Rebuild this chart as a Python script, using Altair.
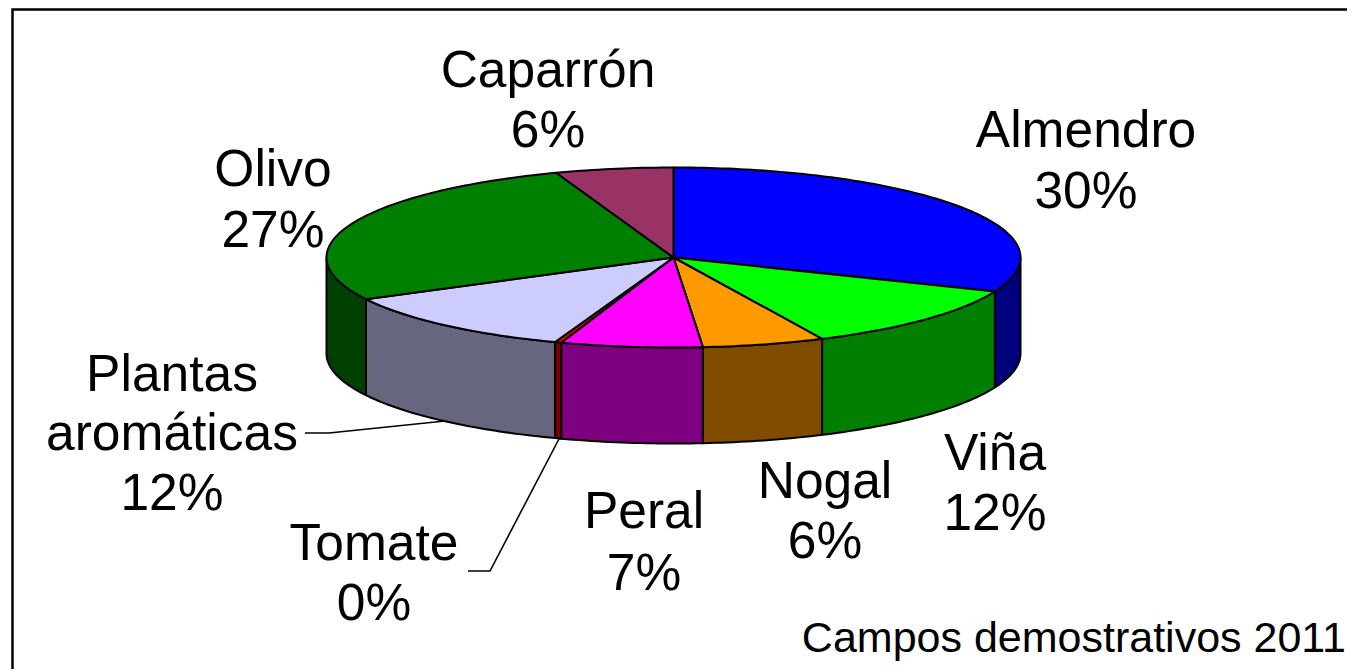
import math
import altair as alt

# Slice data (share of the pie) ------------------------------------------
names = ["Almendro", "Viña", "Nogal", "Peral", "Tomate", "Plantas aromáticas", "Olivo", "Caparrón"]
shares = [31.2, 11.8, 5.7, 6.6, 0.3, 11.8, 27.2, 5.5]
top_colors = ["#0000FF", "#00FF00", "#FF9900", "#FF00FF", "#FF0000", "#CCCCFF", "#008000", "#993366"]
side_colors = ["#00007F", "#007F00", "#7F4C00", "#7F007F", "#7F0000", "#66667F", "#004000", "#4C1933"]

# Label lines
label_lines = ["Caparrón", "6%", "Almendro", "30%", "Olivo", "27%", "Plantas", "aromáticas", "12%",
               "Tomate", "0%", "Peral", "7%", "Nogal", "6%", "Viña", "12%"]
label_x = [548, 548, 1086, 1086, 273, 273, 172, 172, 172, 374, 374, 644, 644, 825, 825, 995, 995]
label_y = [87, 147, 147, 208, 186, 247, 391, 450, 510, 560, 620, 528, 590, 498, 558, 470, 530]
caption = "Campos demostrativos 2011"

# Pie geometry
CX, CY, RX, RY, DEPTH = 673.5, 257.5, 347.0, 90.0, 96.0


def rim(t, dy=0.0):
    return [CX + RX * math.sin(t), CY - RY * math.cos(t) + dy]


def arc(a, b, dy=0.0, step=math.radians(1.0)):
    n = max(2, int(abs(b - a) / step) + 1)
    return [rim(a + (b - a) * i / (n - 1), dy) for i in range(n)]


def feature(kind, coords, col="none"):
    return {"type": "Feature", "properties": {"col": col},
            "geometry": {"type": kind, "coordinates": coords}}


total = sum(shares)
tops, sides = [], []
cum = 0.0
for s, ct, cs in zip(shares, top_colors, side_colors):
    a = 2 * math.pi * cum / total
    cum += s
    b = 2 * math.pi * cum / total
    tops.append(feature("Polygon", [[[CX, CY]] + arc(a, b) + [[CX, CY]]], ct))
    lo, hi = max(a, math.pi / 2), min(b, 3 * math.pi / 2)
    if lo < hi:
        ring = arc(lo, hi) + arc(hi, lo, DEPTH)
        ring.append(ring[0])
        sides.append(feature("Polygon", [ring], cs))

leaders = [
    feature("LineString", [[305, 433], [329, 433], [445, 421]]),
    feature("LineString", [[468, 571], [490, 571], [560, 437]]),
]
frame = [feature("LineString", [[12.5, 669], [12.5, 9.5], [1355, 9.5]])]


def layer_shapes(feats):
    return (
        alt.Chart(alt.Data(values=feats))
        .mark_geoshape(stroke="black", strokeWidth=2, strokeJoin="round")
        .encode(fill=alt.Fill("properties.col:N", scale=None))
    )


def layer_lines(feats, width):
    return (
        alt.Chart(alt.Data(values=feats))
        .mark_geoshape(filled=False, stroke="black", strokeWidth=width)
    )


labels = [{"t": t, "lon": x, "lat": y} for t, x, y in zip(label_lines, label_x, label_y)]
text = (
    alt.Chart(alt.Data(values=labels))
    .mark_text(font="Liberation Sans", fontSize=51.5, color="black", baseline="alphabetic", align="center")
    .encode(longitude="lon:Q", latitude="lat:Q", text="t:N")
)
cap = (
    alt.Chart(alt.Data(values=[{"t": caption, "lon": 1346, "lat": 652}]))
    .mark_text(font="Liberation Sans", fontSize=43, color="black", baseline="alphabetic", align="right")
    .encode(longitude="lon:Q", latitude="lat:Q", text="t:N")
)

chart = (
    alt.layer(layer_lines(frame, 2.5), layer_shapes(sides), layer_shapes(tops),
              layer_lines(leaders, 1.6), text, cap)
    .project(type="identity", scale=1, translate=[-8, -8])
    .properties(width=1339, height=661, padding=0, background="white")
    .configure_view(stroke=None)
)
chart.save("out.html", embed_options={"renderer": "svg", "actions": False})
